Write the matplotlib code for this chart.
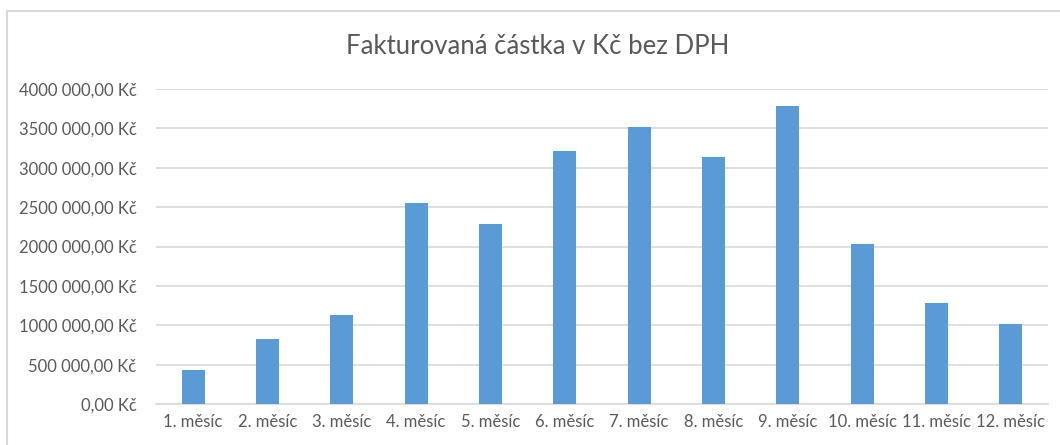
import matplotlib
matplotlib.use('Agg')
import matplotlib.pyplot as plt
from matplotlib.ticker import FuncFormatter, MultipleLocator
from matplotlib.patches import Rectangle
import numpy as np

# data (Kc, without VAT)
months = ['1. měsíc', '2. měsíc', '3. měsíc', '4. měsíc', '5. měsíc', '6. měsíc',
          '7. měsíc', '8. měsíc', '9. měsíc', '10. měsíc', '11. měsíc', '12. měsíc']
amounts = [428000, 822000, 1136000, 2551000, 2280000, 3212000,
           3513000, 3131000, 3788000, 2030000, 1284000, 1013000]

title = 'Fakturovaná částka v Kč bez DPH'
bar_color = '#5B9BD5'
text_color = '#595959'
grid_color = '#D9D9D9'

plt.rcParams['font.family'] = ['Lato', 'DejaVu Sans']


def kc(v, pos):
    v = int(round(v))
    if v < 1000:
        return '%d,00 Kč' % v
    return '%d %03d,00 Kč' % (v // 1000, v % 1000)


fig = plt.figure(figsize=(10.6, 4.45), dpi=100)
ax = fig.add_axes([156 / 1060, 1 - 404 / 445, (1048 - 156) / 1060, (404 - 89) / 445])

x = np.arange(len(months))
ax.bar(x, amounts, width=0.31, color=bar_color, zorder=3)

ax.set_xlim(-0.5, len(months) - 0.5)
ax.set_ylim(0, 4000000)
ax.yaxis.set_major_locator(MultipleLocator(500000))
ax.yaxis.set_major_formatter(FuncFormatter(kc))
ax.set_xticks(x)
ax.set_xticklabels(months)

ax.grid(axis='y', color=grid_color, linewidth=1.2, zorder=0)
for s in ['top', 'right', 'left']:
    ax.spines[s].set_visible(False)
ax.spines['bottom'].set_color(grid_color)
ax.spines['bottom'].set_linewidth(1.2)
ax.tick_params(axis='both', length=0, labelsize=12, labelcolor=text_color)
ax.tick_params(axis='y', pad=14)
ax.tick_params(axis='x', pad=7)

fig.text(538 / 1060, 1 - 47 / 445, title, ha='center', va='center',
         fontsize=18.5, color=text_color)

# chart border (cut off at right and bottom like the screenshot)
fig.patches.append(Rectangle((7 / 1060, -0.1), 1.2, 1 - 11 / 445 + 0.1,
                             transform=fig.transFigure, fill=False,
                             edgecolor=grid_color, linewidth=1.5))

fig.savefig('out.png', dpi=100)
